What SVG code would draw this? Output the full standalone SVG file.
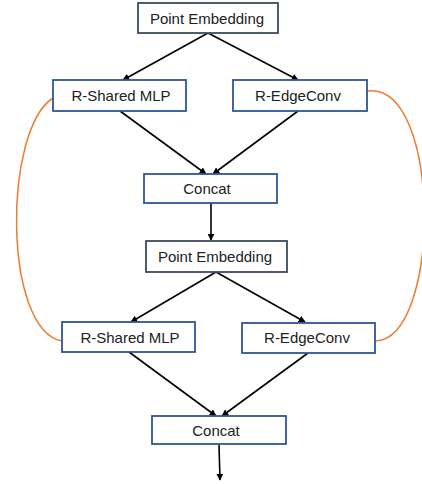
<svg xmlns="http://www.w3.org/2000/svg" width="422" height="484" viewBox="0 0 422 484">
<style>
.box{fill:#fff;stroke:#2F5597;stroke-width:1.8}
.pe{fill:#fff;stroke:#3B4A63;stroke-width:1.8}
.t{font-family:"Liberation Sans",Arial,sans-serif;font-size:15px;fill:#222;text-anchor:middle}
.a{stroke:#000;stroke-width:1.6;fill:none;marker-end:url(#ah)}
.o{stroke:#ED7D31;stroke-width:1.5;fill:none}
</style>
<defs>
<marker id="ah" viewBox="0 0 10 10" refX="9" refY="5" markerWidth="7" markerHeight="7" markerUnits="userSpaceOnUse" orient="auto">
<path d="M0,0 L10,5 L0,10 z" fill="#000"/>
</marker>
</defs>
<rect width="422" height="484" fill="#fff"/>
<g id="connectors">
<path class="o" d="M53,98 C3,130 3,330 62,341"/>
<path class="o" d="M367,91 C442,80 442,340 375,341"/>
<line class="a" x1="208" y1="33" x2="123" y2="80"/>
<line class="a" x1="208" y1="33" x2="298" y2="80"/>
<line class="a" x1="120" y1="111" x2="206" y2="174"/>
<line class="a" x1="298" y1="111" x2="213" y2="174"/>
<line class="a" x1="211" y1="203" x2="211" y2="240"/>
<line class="a" x1="216" y1="272" x2="131" y2="322"/>
<line class="a" x1="216" y1="272" x2="305" y2="322"/>
<line class="a" x1="129" y1="352" x2="216" y2="416"/>
<line class="a" x1="308" y1="353" x2="222" y2="416"/>
<line class="a" x1="219" y1="445" x2="220" y2="480"/>
</g>
<g id="pe1"><rect class="pe" x="138" y="3" width="140" height="30"/><text class="t" x="207" y="23.5">Point Embedding</text></g>
<g id="mlp1"><rect class="box" x="53" y="80" width="133" height="31"/><text class="t" x="121" y="101">R-Shared MLP</text></g>
<g id="edge1"><rect class="box" x="233" y="80" width="134" height="31"/><text class="t" x="298" y="101">R-EdgeConv</text></g>
<g id="concat1"><rect class="box" x="144" y="174" width="133" height="29"/><text class="t" x="207" y="194">Concat</text></g>
<g id="pe2"><rect class="pe" x="146" y="241" width="141" height="31"/><text class="t" x="215" y="262">Point Embedding</text></g>
<g id="mlp2"><rect class="box" x="62" y="322" width="133" height="30"/><text class="t" x="130" y="343">R-Shared MLP</text></g>
<g id="edge2"><rect class="box" x="242" y="323" width="133" height="30"/><text class="t" x="307" y="343">R-EdgeConv</text></g>
<g id="concat2"><rect class="box" x="152" y="416" width="134" height="28"/><text class="t" x="216" y="436">Concat</text></g>
</svg>
